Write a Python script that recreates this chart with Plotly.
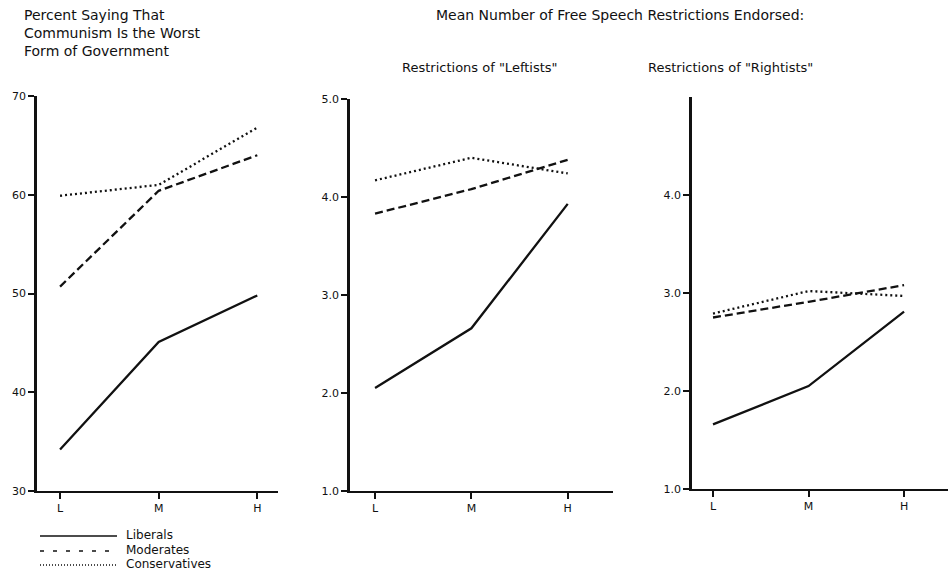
import plotly.graph_objects as go

# ---- data ----
categories = ["L", "M", "H"]
series_names = ["Liberals", "Moderates", "Conservatives"]

# Panel 1: Percent saying communism is the worst form of government
pct_liberals = [34.2, 45.1, 49.8]
pct_moderates = [50.7, 60.4, 64.0]
pct_conservatives = [59.9, 61.0, 66.8]

# Panel 2: Mean restrictions of "Leftists"
left_liberals = [2.05, 2.66, 3.93]
left_moderates = [3.83, 4.08, 4.38]
left_conservatives = [4.17, 4.40, 4.24]

# Panel 3: Mean restrictions of "Rightists"
right_liberals = [1.66, 2.05, 2.81]
right_moderates = [2.75, 2.91, 3.08]
right_conservatives = [2.79, 3.02, 2.97]

title_left = "Percent Saying That<br>Communism Is the Worst<br>Form of Government"
title_main = "Mean Number of Free Speech Restrictions Endorsed:"
title_p2 = "Restrictions of \"Leftists\""
title_p3 = "Restrictions of \"Rightists\""

y1_ticks = [30, 40, 50, 60, 70]
y2_ticks = [1.0, 2.0, 3.0, 4.0, 5.0]
y3_ticks = [1.0, 2.0, 3.0, 4.0]

# ---- styles ----
INK = "#111111"
FONT = "DejaVu Sans, Verdana, sans-serif"
styles = {
    "Liberals": dict(color=INK, width=2.3, dash="solid"),
    "Moderates": dict(color=INK, width=2.3, dash="8px,4px"),
    "Conservatives": dict(color=INK, width=2.3, dash="2px,3px"),
}
legend_dash = {"Liberals": "solid", "Moderates": "4px,9px", "Conservatives": "1px,2px"}

W, H = 948, 571
def px_x(p):
    return p / W
def px_y(p):
    return 1 - p / H

fig = go.Figure()

panels = [
    ("x", "y", [pct_liberals, pct_moderates, pct_conservatives]),
    ("x2", "y2", [left_liberals, left_moderates, left_conservatives]),
    ("x3", "y3", [right_liberals, right_moderates, right_conservatives]),
]
for xa, ya, vals in panels:
    for name, v in zip(series_names, vals):
        fig.add_trace(go.Scatter(
            x=categories, y=v, mode="lines", name=name,
            line=styles[name], xaxis=xa, yaxis=ya, showlegend=False,
        ))

axis_common = dict(
    showline=True, linecolor=INK, showgrid=False, zeroline=False,
    ticks="outside", ticklen=6, tickwidth=2, tickcolor=INK,
    tickfont=dict(family=FONT, size=11, color=INK),
    fixedrange=True, automargin=False,
)

fig.update_layout(
    template="none",
    width=W, height=H, autosize=False,
    margin=dict(l=0, r=0, t=0, b=0, pad=0),
    paper_bgcolor="white", plot_bgcolor="white",
    font=dict(family=FONT, color=INK),
    showlegend=False,
    xaxis=dict(axis_common, type="category", domain=[px_x(37), px_x(278)],
               range=[-0.234, 2.21], anchor="y", linewidth=2),
    yaxis=dict(axis_common, domain=[px_y(491), px_y(96)], range=[30, 70],
               tickvals=y1_ticks, anchor="x", linewidth=2.5),
    xaxis2=dict(axis_common, type="category", domain=[px_x(350), px_x(613)],
                range=[-0.26, 2.47], anchor="y2", linewidth=2),
    yaxis2=dict(axis_common, domain=[px_y(491), px_y(99)], range=[1, 5],
                tickvals=y2_ticks, tickformat=".1f", anchor="x2", linewidth=2.5),
    xaxis3=dict(axis_common, type="category", domain=[px_x(692), 1.0],
                range=[-0.22, 2.46], anchor="y3", linewidth=2),
    yaxis3=dict(axis_common, domain=[px_y(489), px_y(97)], range=[1, 5],
                tickvals=y3_ticks, tickformat=".1f", anchor="x3", linewidth=2.5),
)

annotations = [
    dict(text=title_left, x=px_x(22), y=px_y(5), xanchor="left", yanchor="top",
         align="left", font=dict(size=14, family=FONT, color=INK)),
    dict(text=title_main, x=px_x(620), y=px_y(15), xanchor="center", yanchor="middle",
         font=dict(size=14, family=FONT, color=INK)),
    dict(text=title_p2, x=px_x(480), y=px_y(67), xanchor="center", yanchor="middle",
         font=dict(size=13, family=FONT, color=INK)),
    dict(text=title_p3, x=px_x(730), y=px_y(67), xanchor="center", yanchor="middle",
         font=dict(size=13, family=FONT, color=INK)),
]

# custom legend (sample lines + labels)
legend_y = [535, 550, 564]
shapes = []
for name, ly in zip(series_names, legend_y):
    shapes.append(dict(type="line", xref="paper", yref="paper",
                       x0=px_x(40), x1=px_x(117), y0=px_y(ly + 1), y1=px_y(ly + 1),
                       line=dict(color=INK, width=1.3, dash=legend_dash[name])))
    annotations.append(dict(text=name, x=px_x(124), y=px_y(ly), xanchor="left",
                            yanchor="middle", showarrow=False,
                            font=dict(size=12, family=FONT, color=INK)))

for a in annotations:
    a.setdefault("showarrow", False)
    a["xref"] = "paper"
    a["yref"] = "paper"

fig.update_layout(annotations=annotations, shapes=shapes)

fig.write_html(
    "out.html",
    config={"displayModeBar": False},
    post_script="document.body.style.margin='0';document.body.style.padding='0';"
                "document.body.style.overflow='hidden';",
)
